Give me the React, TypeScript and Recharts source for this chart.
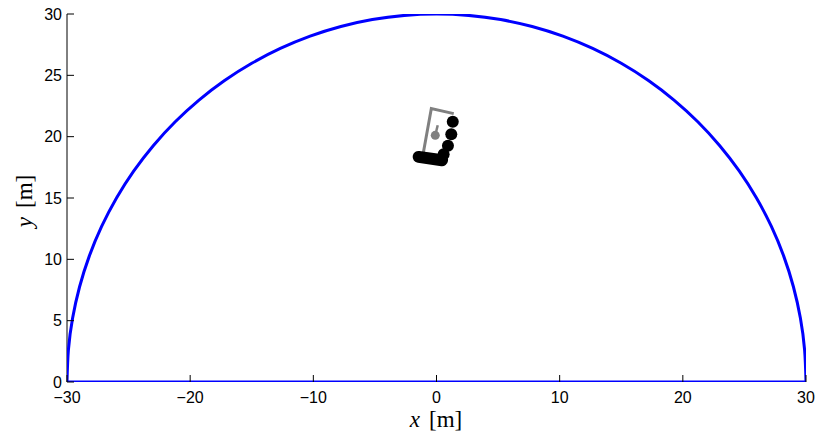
import {
  ComposedChart,
  Line,
  XAxis,
  YAxis,
} from "recharts";

// field boundary: semicircle of radius 30 m, sampled every 5 degrees
const arc = [
  { x: 30, y: 0 },
  { x: 29.886, y: 2.615 },
  { x: 29.544, y: 5.209 },
  { x: 28.978, y: 7.765 },
  { x: 28.191, y: 10.261 },
  { x: 27.189, y: 12.679 },
  { x: 25.981, y: 15 },
  { x: 24.575, y: 17.207 },
  { x: 22.981, y: 19.284 },
  { x: 21.213, y: 21.213 },
  { x: 19.284, y: 22.981 },
  { x: 17.207, y: 24.575 },
  { x: 15, y: 25.981 },
  { x: 12.679, y: 27.189 },
  { x: 10.261, y: 28.191 },
  { x: 7.765, y: 28.978 },
  { x: 5.209, y: 29.544 },
  { x: 2.615, y: 29.886 },
  { x: 0, y: 30 },
  { x: -2.615, y: 29.886 },
  { x: -5.209, y: 29.544 },
  { x: -7.765, y: 28.978 },
  { x: -10.261, y: 28.191 },
  { x: -12.679, y: 27.189 },
  { x: -15, y: 25.981 },
  { x: -17.207, y: 24.575 },
  { x: -19.284, y: 22.981 },
  { x: -21.213, y: 21.213 },
  { x: -22.981, y: 19.284 },
  { x: -24.575, y: 17.207 },
  { x: -25.981, y: 15 },
  { x: -27.189, y: 12.679 },
  { x: -28.191, y: 10.261 },
  { x: -28.978, y: 7.765 },
  { x: -29.544, y: 5.209 },
  { x: -29.886, y: 2.615 },
  { x: -30, y: 0 },
];

// straight edge closing the semicircle
const baseEdge = [
  { x: -30, y: 0 },
  { x: 30, y: 0 },
];

// grey outline (two sides of the target)
const frame = [
  { x: 1.4, y: 21.88 },
  { x: -0.42, y: 22.29 },
  { x: -1.12, y: 18.4 },
];

// grey marker and its heading stick
const heading = [
  { x: 0.1, y: 20.93 },
  { x: -0.1, y: 20.11 },
];
const marker = [{ x: -0.1, y: 20.11 }];

// black trail
const trailDots = [
  { x: 1.32, y: 21.21 },
  { x: 1.2, y: 20.2 },
  { x: 0.93, y: 19.25 },
  { x: 0.58, y: 18.57 },
];
const trailBar = [
  { x: -1.45, y: 18.35 },
  { x: 0.45, y: 18.08 },
];

const xTicks = [-30, -20, -10, 0, 10, 20, 30];
const yTicks = [0, 5, 10, 15, 20, 25, 30];

const tickFont = { fontFamily: "'Liberation Sans', Arial, sans-serif", fontSize: 16 };
const mathFont = "'Liberation Serif', 'Times New Roman', serif";

const fmt = (v: number) => (v < 0 ? `\u2212${Math.abs(v)}` : `${v}`);

const BottomTick = ({ x, y, payload }: any) => (
  <g>
    <line x1={x} x2={x} y1={y} y2={y - 7} stroke="#000" />
    <text x={x} y={y + 15} textAnchor="middle" dominantBaseline="central" {...tickFont}>
      {fmt(payload.value)}
    </text>
  </g>
);

const LeftTick = ({ x, y, payload }: any) => (
  <g>
    <line x1={x} x2={x + 7} y1={y} y2={y} stroke="#000" />
    <text x={x - 5} y={y} textAnchor="end" dominantBaseline="central" {...tickFont}>
      {fmt(payload.value)}
    </text>
  </g>
);

const TopTick = ({ x, y }: any) => (
  <line x1={x} x2={x} y1={y} y2={y + 7} stroke="#000" />
);

const RightTick = ({ x, y }: any) => (
  <line x1={x} x2={x - 7} y1={y} y2={y} stroke="#000" />
);

// series sit above the axis frame
const Z = 600;

export default function App() {
  return (
    <div style={{ position: "absolute", left: 0, top: 0, background: "#fff" }}>
      <ComposedChart
        width={818}
        height={437}
        margin={{ top: 14, right: 12, bottom: 0, left: 0 }}
      >
        {/* bottom frame edge is covered by the blue base edge */}
        <XAxis
          dataKey="x"
          type="number"
          domain={[-30, 30]}
          ticks={xTicks}
          allowDataOverflow
          height={55}
          tickSize={0}
          tickMargin={0}
          tickLine={false}
          tick={<BottomTick />}
          axisLine={false}
          label={{
            content: () => (
              <text x={436} y={427} textAnchor="middle" fontFamily={mathFont} fontSize={23}>
                <tspan fontStyle="italic">x</tspan>
                <tspan dx={9}>[m]</tspan>
              </text>
            ),
          }}
        />
        <XAxis
          xAxisId="top"
          orientation="top"
          dataKey="x"
          type="number"
          domain={[-30, 30]}
          ticks={xTicks}
          height={0}
          tickSize={0}
          tickMargin={0}
          tickLine={false}
          tick={<TopTick />}
          axisLine={{ stroke: "#000" }}
        />
        <YAxis
          dataKey="y"
          type="number"
          domain={[0, 30]}
          ticks={yTicks}
          allowDataOverflow
          width={67}
          tickSize={0}
          tickMargin={0}
          tickLine={false}
          tick={<LeftTick />}
          axisLine={{ stroke: "#000" }}
          label={{
            content: () => (
              <text
                x={32}
                y={201}
                textAnchor="middle"
                transform="rotate(-90 32 201)"
                fontFamily={mathFont}
                fontSize={23}
              >
                <tspan fontStyle="italic">y</tspan>
                <tspan dx={9}>[m]</tspan>
              </text>
            ),
          }}
        />
        <YAxis
          yAxisId="right"
          orientation="right"
          dataKey="y"
          type="number"
          domain={[0, 30]}
          ticks={yTicks}
          width={0}
          tickSize={0}
          tickMargin={0}
          tickLine={false}
          tick={<RightTick />}
          axisLine={{ stroke: "#000" }}
        />
        <Line
          data={arc}
          dataKey="y"
          type="natural"
          stroke="#0000ff"
          strokeWidth={3}
          dot={false}
          zIndex={Z}
          isAnimationActive={false}
        />
        <Line
          data={baseEdge}
          dataKey="y"
          type="linear"
          stroke="#0000ff"
          strokeWidth={3}
          dot={false}
          zIndex={Z}
          isAnimationActive={false}
        />
        <Line
          data={frame}
          dataKey="y"
          type="linear"
          stroke="#808080"
          strokeWidth={3}
          dot={false}
          zIndex={Z}
          isAnimationActive={false}
        />
        <Line
          data={heading}
          dataKey="y"
          type="linear"
          stroke="#808080"
          strokeWidth={2.5}
          dot={false}
          zIndex={Z}
          isAnimationActive={false}
        />
        <Line
          data={marker}
          dataKey="y"
          stroke="none"
          dot={{ r: 4.5, fill: "#808080", stroke: "none" }}
          zIndex={Z}
          isAnimationActive={false}
        />
        <Line
          data={trailBar}
          dataKey="y"
          type="linear"
          stroke="#000"
          strokeWidth={12}
          strokeLinecap="round"
          dot={false}
          zIndex={Z}
          isAnimationActive={false}
        />
        <Line
          data={trailDots}
          dataKey="y"
          stroke="none"
          dot={{ r: 6, fill: "#000", stroke: "none" }}
          zIndex={Z}
          isAnimationActive={false}
        />
      </ComposedChart>
    </div>
  );
}
